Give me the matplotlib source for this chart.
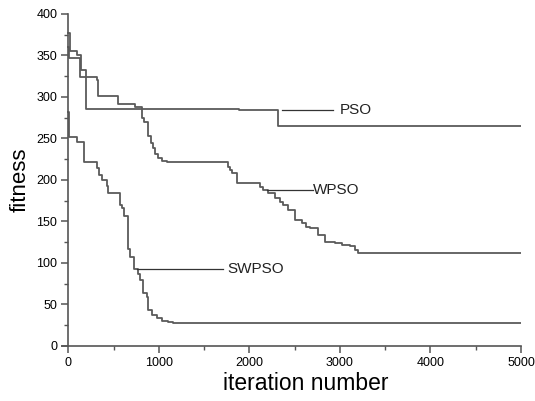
import matplotlib
matplotlib.use("Agg")
import matplotlib.pyplot as plt
from matplotlib.ticker import MultipleLocator

plt.rcParams['font.family'] = ['Liberation Sans', 'DejaVu Sans']

# Step data (iteration where a new best fitness begins, fitness value)
pso_x = [0, 15, 99, 137, 195, 1885, 2316, 5000]
pso_y = [377, 355, 351, 333, 286, 284.5, 265, 265]

wpso_x = [0, 10, 124, 314, 332, 552, 737, 811, 840, 884, 910, 939, 960, 994,
          1031, 1087, 1767, 1786, 1805, 1860, 2117, 2154, 2210, 2283, 2340,
          2375, 2430, 2504, 2578, 2630, 2670, 2761, 2835, 2946, 3020, 3111,
          3167, 3200, 5000]
wpso_y = [360, 347, 324.5, 320, 301.6, 291, 287.6, 274, 270, 253, 244, 238,
          231, 226, 222.8, 221.2, 216, 212, 208, 196.6, 191.8, 187.8, 183.8,
          177.8, 173.7, 169.7, 163.7, 151.6, 147.6, 142.8, 141.6, 133.5, 125.5,
          123.5, 121.5, 120.6, 115, 111.5, 111.5]

swpso_x = [0, 8, 93, 173, 314, 342, 369, 424, 442, 571, 590, 615, 663, 681,
           726, 773, 792, 822, 866, 884, 921, 976, 1032, 1105, 1160, 5000]
swpso_y = [282, 252, 246, 221, 214, 206, 200, 192, 184, 170, 166, 156, 117,
           107, 93, 87, 79, 63, 59, 43, 37, 33, 30, 28, 27, 27]

series_names = ["PSO", "WPSO", "SWPSO"]

line_color = "#5a5a5a"
axis_color = "#555555"

fig = plt.figure(figsize=(5.35, 4.01), dpi=100)
ax = fig.add_axes([62 / 535, 1 - 345.7 / 401, (521 - 62) / 535, (345.7 - 14) / 401])

for xs, ys in [(pso_x, pso_y), (wpso_x, wpso_y), (swpso_x, swpso_y)]:
    ax.step(xs, ys, where='post', color=line_color, lw=1.3)

ax.set_xlim(-70, 5000)
ax.set_ylim(0, 400)

ax.spines['top'].set_visible(False)
ax.spines['right'].set_visible(False)
ax.spines['left'].set_position(('data', 0))
for s in ['left', 'bottom']:
    ax.spines[s].set_color(axis_color)
    ax.spines[s].set_linewidth(1.2)

ax.xaxis.set_major_locator(MultipleLocator(1000))
ax.xaxis.set_minor_locator(MultipleLocator(500))
ax.yaxis.set_major_locator(MultipleLocator(50))
ax.yaxis.set_minor_locator(MultipleLocator(25))
ax.tick_params(which='major', direction='out', length=5, width=1.1,
               color=axis_color, labelsize=9, pad=3)
ax.tick_params(which='minor', direction='out', length=2.8, width=1.0,
               color=axis_color)

ax.set_ylabel("fitness", fontsize=16)
ax.yaxis.set_label_coords(-0.069, 0.5)
ax.set_xlabel("iteration number", fontsize=16.5)
ax.xaxis.set_label_coords(0.5305, -0.078)

# annotations
ann = [
    ("PSO", 2357, 2927, 284.3, 3000),
    ("WPSO", 2191, 2706, 187.8, 2706),
    ("SWPSO", 755, 1712, 92.1, 1760),
]
for name, x0, x1, yv, xt in ann:
    ax.plot([x0, x1], [yv, yv], color="#333333", lw=0.9)
    ax.text(xt, yv, name, fontsize=11, va='center', ha='left', color="#222222")

fig.savefig("out.png", dpi=100)
